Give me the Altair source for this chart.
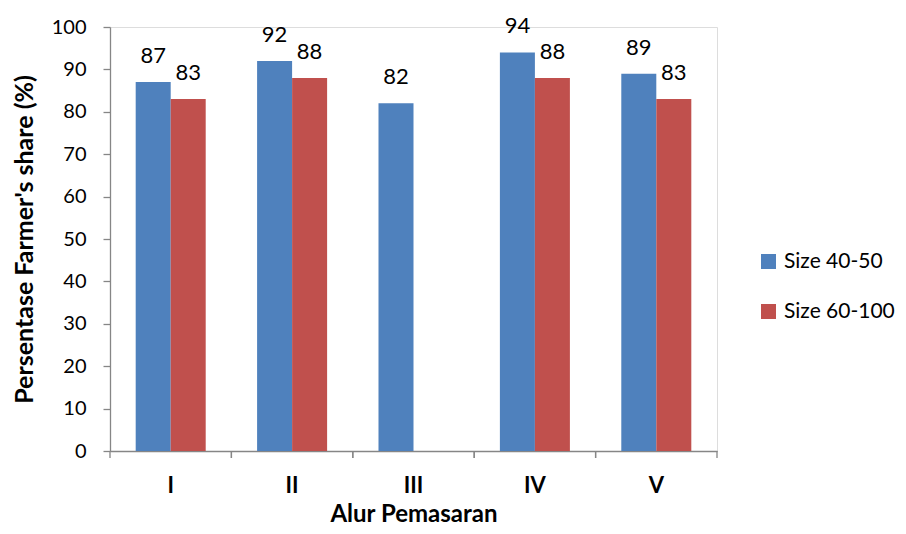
import altair as alt
import pandas as pd

categories = ["I", "II", "III", "IV", "V"]
series_names = ["Size 40-50", "Size 60-100"]
size_40_50 = [87, 92, 82, 94, 89]
size_60_100 = [83, 88, None, 88, 83]
y_ticks = [0, 10, 20, 30, 40, 50, 60, 70, 80, 90, 100]
colors = ["#4F81BD", "#C0504D"]

rows = []
for c, a, b in zip(categories, size_40_50, size_60_100):
    rows.append({"cat": c, "series": series_names[0], "value": a})
    if b is not None:
        rows.append({"cat": c, "series": series_names[1], "value": b})
df = pd.DataFrame(rows)
cat_df = pd.DataFrame({"cat": categories})

FONT = "Lato"
AXIS_COLOR = "#868686"
W, H = 607, 424

xscale = alt.Scale(domain=categories, paddingInner=0, paddingOuter=0)
xoff_scale = alt.Scale(domain=series_names, paddingInner=0, paddingOuter=0.734)
yscale = alt.Scale(domain=[0, 100])

x_enc = alt.X(
    "cat:N", scale=xscale, sort=categories,
    axis=alt.Axis(
        title="Alur Pemasaran", ticks=False, domainColor=AXIS_COLOR, domainWidth=1.3,
        labelFont=FONT, labelFontSize=22, labelFontWeight="bold", labelColor="#000000",
        labelAngle=0, labelPadding=24,
        titleFont=FONT, titleFontSize=24, titleFontWeight="bold", titleColor="#000000",
        titlePadding=6,
    ),
)
y_enc = alt.Y(
    "value:Q", scale=yscale,
    axis=alt.Axis(
        title="Persentase Farmer's share (%)", values=y_ticks, grid=False,
        domainColor=AXIS_COLOR, domainWidth=1.3, tickColor=AXIS_COLOR, tickWidth=1.3,
        tickSize=7, labelFont=FONT, labelFontSize=20, labelColor="#000000", labelPadding=17,
        titleFont=FONT, titleFontSize=25, titleFontWeight="bold", titleColor="#000000",
        titleX=-86, titleY=H / 2, titleAngle=-90, titleBaseline="middle", titleAlign="center",
    ),
)
color_enc = alt.Color(
    "series:N", scale=alt.Scale(domain=series_names, range=colors),
    legend=alt.Legend(
        title=None, orient="none", legendX=648, legendY=224, symbolType="square",
        symbolSize=225, symbolStrokeWidth=0, labelFont=FONT, labelFontSize=21,
        labelColor="#000000", labelOffset=5, rowPadding=28,
    ),
)

bars = alt.Chart(df).mark_bar().encode(
    x=x_enc,
    xOffset=alt.XOffset("series:N", scale=xoff_scale, sort=series_names),
    y=y_enc,
    color=color_enc,
)

labels = alt.Chart(df).mark_text(
    font=FONT, fontSize=22, color="#000000", baseline="alphabetic", dy=-19
).encode(
    x=alt.X("cat:N", scale=xscale, sort=categories),
    xOffset=alt.XOffset("series:N", scale=xoff_scale, sort=series_names),
    y=alt.Y("value:Q", scale=yscale),
    text=alt.Text("value:Q", format="d"),
)

ticks_start = alt.Chart(cat_df).mark_rule(color=AXIS_COLOR, strokeWidth=1.3).encode(
    x=alt.X("cat:N", scale=xscale, sort=categories, bandPosition=0),
    y=alt.value(H), y2=alt.value(H + 7),
)
ticks_end = alt.Chart(cat_df).mark_rule(color=AXIS_COLOR, strokeWidth=1.3).encode(
    x=alt.X("cat:N", scale=xscale, sort=categories, bandPosition=1),
    y=alt.value(H), y2=alt.value(H + 7),
)

chart = alt.layer(bars, labels, ticks_start, ticks_end).properties(
    width=W, height=H, autosize="none",
    padding={"left": 102, "top": 19, "right": 180, "bottom": 75},
).configure_view(stroke=None).configure(background="#ffffff")

chart.save("out.html", embed_options={"renderer": "svg", "actions": False})
